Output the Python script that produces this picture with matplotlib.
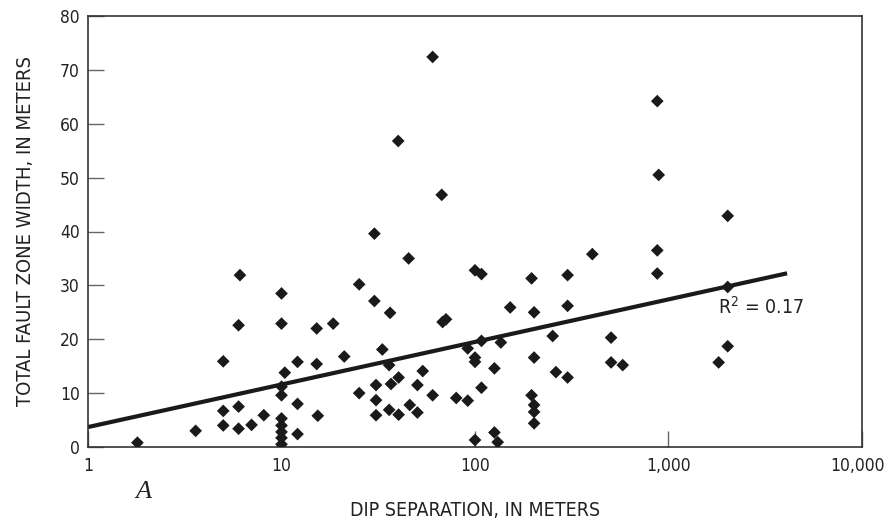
import numpy as np
import matplotlib
matplotlib.use("Agg")
import matplotlib.pyplot as plt
import matplotlib.transforms as mtransforms
from matplotlib.ticker import FixedLocator, FixedFormatter, NullLocator

# ---- data ----
dip_separation = [
    1.8, 3.6, 5.0, 5.0, 5.0, 6.0, 6.0, 6.0, 6.1, 7.0, 8.1,
    10, 10, 10.4, 10, 10, 10, 10, 10, 10, 10,
    12.1, 12.1, 12.1, 15.2, 15.2, 15.4, 18.5, 21.1,
    25.2, 25.2, 30.2, 30.8, 30.8, 30.8, 30.2, 33.2, 36.4, 36.0, 36.8, 36.0,
    40.3, 40.3, 40.1, 45.4, 46.0, 50.4, 50.4, 53.7, 60.4, 60.4, 67.3, 68, 70.8,
    80, 91.7, 91.7, 100, 100, 100, 100, 108, 108, 108,
    126, 126, 131, 136, 152, 196, 196, 202, 202, 202, 202, 202,
    252, 262, 301, 301, 301, 404, 505, 505, 580,
    875, 875, 890, 875, 1816, 2023, 2023, 2023,
]
fault_zone_width = [
    0.8, 3.0, 4.0, 6.7, 15.9, 7.5, 3.4, 22.6, 31.9, 4.1, 5.9,
    28.5, 22.9, 13.8, 11.2, 9.6, 5.3, 4.0, 2.8, 1.7, 0.5,
    15.8, 8.0, 2.4, 22.0, 15.4, 5.8, 22.9, 16.8,
    30.2, 10.0, 27.1, 11.5, 8.7, 5.9, 39.6, 18.1, 24.9, 15.2, 11.7, 6.9,
    12.9, 6.0, 56.8, 35.0, 7.8, 11.5, 6.4, 14.1, 9.6, 72.4, 46.8, 23.2, 23.7,
    9.1, 18.3, 8.6, 32.8, 16.6, 15.8, 1.3, 32.1, 19.7, 11.0,
    14.6, 2.7, 0.9, 19.4, 25.9, 31.3, 9.6, 25.0, 16.6, 7.8, 6.5, 4.4,
    20.6, 13.9, 31.9, 26.2, 12.9, 35.8, 20.3, 15.7, 15.2,
    64.2, 36.5, 50.5, 32.2, 15.7, 42.9, 29.7, 18.7,
]
trend_intercept = 3.7     # width at separation = 1
trend_slope = 7.9         # per decade of separation
trend_range = [1, 4100]
r2_label = "R$^2$ = 0.17"

x_ticks = [1, 10, 100, 1000, 10000]
x_tick_labels = ["1", "10", "100", "1,000", "10,000"]
y_ticks = [0, 10, 20, 30, 40, 50, 60, 70, 80]
y_tick_labels = [str(v) for v in y_ticks]

# ---- figure ----
plt.rcParams["font.family"] = ["DejaVu Sans"]
plt.rcParams["font.stretch"] = "condensed"
plt.rcParams["mathtext.fontset"] = "dejavusans"

fig = plt.figure(figsize=(8.87, 5.23), dpi=100)
ax = fig.add_axes([88 / 887, 1 - 447 / 523, (862 - 88) / 887, (447 - 16) / 523])

ax.set_xscale("log")
ax.set_xlim(1, 10000)
ax.set_ylim(0, 80)

ax.scatter(dip_separation, fault_zone_width, marker="D", s=42, color="#1a1a1a",
           edgecolors="none", zorder=3)

tx = np.logspace(np.log10(trend_range[0]), np.log10(trend_range[1]), 50)
ax.plot(tx, trend_intercept + trend_slope * np.log10(tx), color="#1a1a1a", lw=3.0,
        solid_capstyle="butt", zorder=2)

ax.text(1800, 26.0, r2_label, fontsize=14, color="#222222", ha="left", va="center")

ax.xaxis.set_major_locator(FixedLocator(x_ticks))
ax.xaxis.set_major_formatter(FixedFormatter(x_tick_labels))
ax.xaxis.set_minor_locator(NullLocator())
ax.yaxis.set_major_locator(FixedLocator(y_ticks))
ax.yaxis.set_major_formatter(FixedFormatter(y_tick_labels))

ax.tick_params(axis="both", direction="in", length=11.5, width=1.0, color="#666666",
               labelsize=12.5, labelcolor="#222222")
ax.tick_params(axis="x", pad=7)
ax.tick_params(axis="y", pad=6)

for side in ["left", "bottom", "top", "right"]:
    ax.spines[side].set_color("#333333")
    ax.spines[side].set_linewidth(1.2)

ax.set_xlabel("DIP SEPARATION, IN METERS", fontsize=14, color="#222222", labelpad=19)
ax.set_ylabel("TOTAL FAULT ZONE WIDTH, IN METERS", fontsize=14.5, color="#222222", labelpad=18)

# keep last x tick label inside the canvas
fig.canvas.draw()
last = ax.get_xticklabels()[-1]
last.set_transform(last.get_transform() + mtransforms.ScaledTranslation(-4 / 100, 0, fig.dpi_scale_trans))

fig.text(143 / 887, 1 - 492 / 523, "A", fontsize=19, style="italic",
         family=["Liberation Serif", "DejaVu Serif"], ha="center", va="center",
         color="#222222")

fig.savefig("out.png", dpi=100)
